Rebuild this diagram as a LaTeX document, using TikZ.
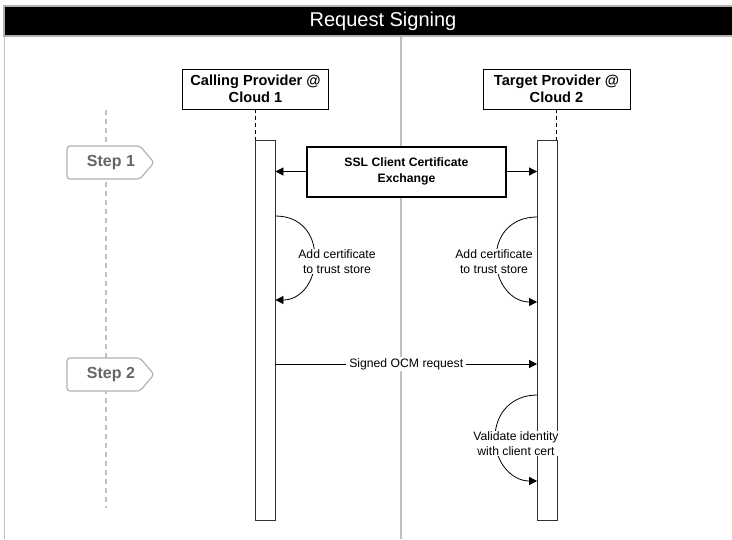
\documentclass[tikz,border=0pt]{standalone}
\usepackage{fontspec}
\setmainfont{Liberation Sans}
\usetikzlibrary{arrows.meta}
\begin{document}
\begin{tikzpicture}[x=1pt,y=-1pt,
  font=\fontsize{12.2}{15}\selectfont,
  frameline/.style={draw=black!25, line width=1.6pt},
  provider/.style={draw=black, line width=0.8pt, fill=white, align=center, font=\bfseries\fontsize{14.6}{17.5}\selectfont, minimum height=40pt, inner sep=0pt},
  actbar/.style={draw=black!80, line width=0.8pt, fill=white, minimum width=19.5pt, minimum height=380pt, inner sep=0pt},
  msg/.style={line width=0.8pt, -{Triangle[length=8pt,width=8pt]}},
  lbl/.style={fill=white, align=center, inner xsep=4pt, inner ysep=1pt},
  stepshape/.style={draw=black!30, line width=1.2pt, fill=white, rounded corners=3pt},
  steptext/.style={text=black!60, font=\bfseries\fontsize{16}{18}\selectfont},
  lifeline/.style={line width=0.8pt, dash pattern=on 4pt off 3pt},
  stepline/.style={draw=black!25, line width=1.3pt, dash pattern=on 5pt off 4pt}
]
\useasboundingbox (0,0) rectangle (732,539);
% frame
\draw[frameline] (4.5,36) -- (4.5,539);
\draw[frameline] (401,36) -- (401,539);
\draw[draw=black!30, line width=1.4pt, fill=black] (4,6) rectangle (740,36);
\node[text=white, font=\fontsize{20}{22}\selectfont] (title) at (383,21) {Request Signing};
% step guide
\coordinate (stt) at (106,110);
\coordinate (stb) at (106,508);
\draw[stepline] (stt) -- (stb);
\draw[stepshape] (67,146) -- (140,146) -- (154,162.5) -- (140,179) -- (67,179) -- cycle;
\node[steptext] (s1) at (111,162.5) {Step 1};
\draw[stepshape] (67,358) -- (140,358) -- (154,374.5) -- (140,391) -- (67,391) -- cycle;
\node[steptext] (s2) at (111,374.5) {Step 2};
% participants
\node[provider, minimum width=146pt] (cp) at (255.5,89) {Calling Provider @\\Cloud 1};
\node[provider, minimum width=147pt] (tp) at (556.5,89) {Target Provider @\\Cloud 2};
\node[actbar] (lb) at (265.25,330) {};
\node[actbar] (rb) at (547.25,330) {};
\draw[lifeline] (cp.south) -- (cp.south |- lb.north);
\draw[lifeline] (tp.south) -- (tp.south |- rb.north);
% SSL exchange
\node[draw=black, line width=2pt, fill=white, minimum width=199pt, minimum height=50pt, align=center, inner sep=0pt, font=\bfseries\fontsize{12.2}{16.5}\selectfont] (ssl) at (406.5,171.5) {SSL Client Certificate\\Exchange};
\draw[msg] (ssl.west) -- (lb.east |- ssl.west);
\draw[msg] (ssl.east) -- (rb.west |- ssl.east);
% self calls
\coordinate (a1s) at (lb.east |- 0,216);
\coordinate (a1e) at (lb.east |- 0,300);
\draw[msg] (a1s) .. controls (300,216) and (315,233) .. (315,258) .. controls (315,283) and (300,300) .. (a1e);
\node[lbl] (l1) at (337,261.5) {Add certificate\\to trust store};
\coordinate (a2s) at (rb.west |- 0,217);
\coordinate (a2e) at (rb.west |- 0,302);
\draw[msg] (a2s) .. controls (512,217) and (496,234) .. (496,259) .. controls (496,284) and (512,302) .. (a2e);
\node[lbl] (l2) at (494,261.5) {Add certificate\\to trust store};
% signed request
\coordinate (sgs) at (lb.east |- 0,364);
\coordinate (sge) at (rb.west |- 0,364);
\draw[msg] (sgs) -- (sge) node[midway, fill=white, inner xsep=3pt, inner ysep=1pt] (sig) {Signed OCM request};
% validate
\coordinate (a3s) at (rb.west |- 0,395);
\coordinate (a3e) at (rb.west |- 0,481);
\draw[msg] (a3s) .. controls (512,395) and (495,413) .. (495,438) .. controls (495,463) and (512,481) .. (a3e);
\node[lbl] (l3) at (516,443.5) {Validate identity\\with client cert};
\end{tikzpicture}
\end{document}
